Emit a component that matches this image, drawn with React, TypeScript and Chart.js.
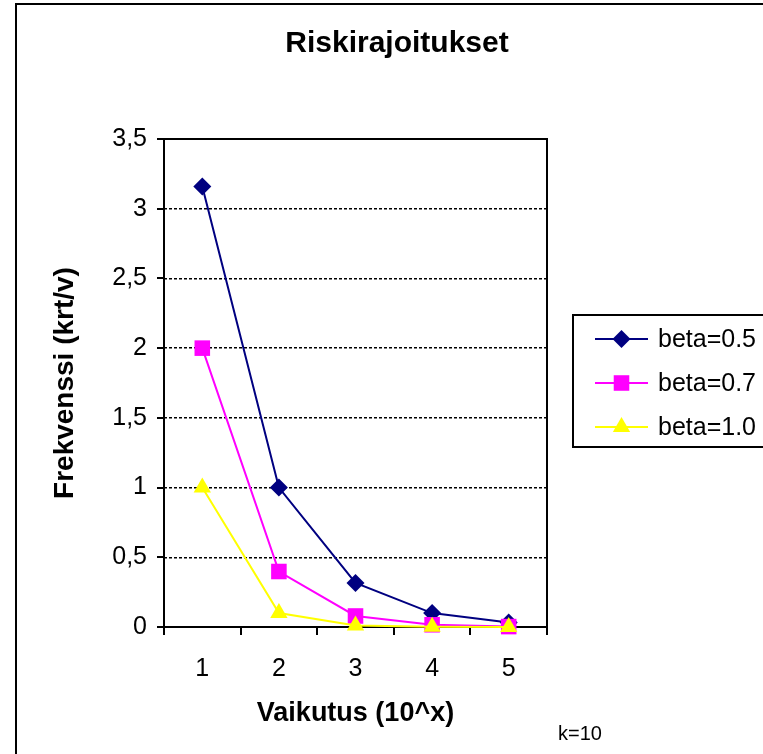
import React, { useEffect, useRef } from 'react';
import { Chart, registerables } from 'chart.js';

Chart.register(...registerables);

const W = 763;
const H = 754;
const FONT = "'Liberation Sans', Arial, sans-serif";

const chartTitle = 'Riskirajoitukset';
const xTitle = 'Vaikutus (10^x)';
const yTitle = 'Frekvenssi (krt/v)';
const footNote = 'k=10';

const categories = ['1', '2', '3', '4', '5'];
const seriesNames = ['beta=0.5', 'beta=0.7', 'beta=1.0'];
const beta05 = [3.16, 1.0, 0.316, 0.1, 0.0316];
const beta07 = [2.0, 0.398, 0.079, 0.016, 0.003];
const beta10 = [1.0, 0.1, 0.01, 0.001, 0.0001];
const seriesColors = ['#000080', '#FF00FF', '#FFFF00'];
const seriesMarkers = ['rectRot', 'rect', 'triangle'];
const markerRadius = [9, 11, 10];

const yMin = 0;
const yMax = 3.5;
const yStep = 0.5;

function drawMarker(ctx: CanvasRenderingContext2D, shape: string, x: number, y: number, r: number, color: string) {
  ctx.save();
  ctx.fillStyle = color;
  ctx.beginPath();
  if (shape === 'rectRot') {
    ctx.moveTo(x, y - r);
    ctx.lineTo(x + r, y);
    ctx.lineTo(x, y + r);
    ctx.lineTo(x - r, y);
  } else if (shape === 'rect') {
    const s = r * Math.SQRT1_2;
    ctx.rect(x - s, y - s, 2 * s, 2 * s);
  } else {
    ctx.moveTo(x, y - r);
    ctx.lineTo(x + r * Math.sin((2 * Math.PI) / 3), y + r * 0.5);
    ctx.lineTo(x - r * Math.sin((2 * Math.PI) / 3), y + r * 0.5);
  }
  ctx.closePath();
  ctx.fill();
  ctx.restore();
}

const decor = {
  id: 'decor',
  beforeDatasetsDraw(chart: any) {
    const { ctx, chartArea } = chart;
    ctx.save();
    ctx.strokeStyle = '#000';
    ctx.lineWidth = 2;
    ctx.beginPath();
    ctx.moveTo(chartArea.left, chartArea.top);
    ctx.lineTo(chartArea.right, chartArea.top);
    ctx.stroke();
    ctx.restore();
  },
  afterDraw(chart: any) {
    const { ctx } = chart;
    ctx.save();
    // outer chart border
    ctx.strokeStyle = '#000';
    ctx.lineWidth = 2;
    ctx.beginPath();
    ctx.moveTo(16, H + 2);
    ctx.lineTo(16, 4);
    ctx.lineTo(W + 2, 4);
    ctx.stroke();

    // title
    ctx.fillStyle = '#000';
    ctx.font = `bold 30px ${FONT}`;
    ctx.textAlign = 'center';
    ctx.textBaseline = 'middle';
    ctx.fillText(chartTitle, 397, 44);

    // footnote
    ctx.font = `20px ${FONT}`;
    ctx.textAlign = 'left';
    ctx.fillText(footNote, 558, 734);

    // legend box
    ctx.lineWidth = 2;
    ctx.strokeRect(573, 315, 200, 132);
    const rows = [339, 383, 427];
    chart.data.datasets.forEach((ds: any, i: number) => {
      const y = rows[i];
      ctx.strokeStyle = ds.borderColor;
      ctx.lineWidth = 2;
      ctx.beginPath();
      ctx.moveTo(595, y);
      ctx.lineTo(648, y);
      ctx.stroke();
      drawMarker(ctx, ds.pointStyle, 621.5, y, ds.pointRadius, ds.pointBackgroundColor);
      ctx.fillStyle = '#000';
      ctx.font = `25px ${FONT}`;
      ctx.textAlign = 'left';
      ctx.textBaseline = 'middle';
      ctx.fillText(ds.label, 658, y + 1);
    });
    ctx.restore();
  },
};

export default function App() {
  const ref = useRef<HTMLCanvasElement | null>(null);

  useEffect(() => {
    if (!ref.current) return;
    const series = [beta05, beta07, beta10];
    const chart = new Chart(ref.current, {
      type: 'line',
      data: {
        labels: categories,
        datasets: series.map((data, i) => ({
          label: seriesNames[i],
          data,
          borderColor: seriesColors[i],
          backgroundColor: seriesColors[i],
          pointBackgroundColor: seriesColors[i],
          pointBorderColor: seriesColors[i],
          pointBorderWidth: 0,
          pointStyle: seriesMarkers[i],
          pointRadius: markerRadius[i],
          borderWidth: 2,
          tension: 0,
          fill: false,
          order: 3 - i,
          clip: false,
        })),
      },
      options: {
        responsive: false,
        animation: false,
        events: [],
        layout: { padding: { top: 139, right: 216, bottom: 0, left: 0 } },
        plugins: {
          legend: { display: false },
          title: { display: false },
          tooltip: { enabled: false },
        },
        scales: {
          x: {
            type: 'category',
            offset: true,
            afterFit: (s: any) => { s.height = 127; },
            grid: {
              offset: true,
              drawOnChartArea: false,
              drawTicks: true,
              tickLength: 8,
              color: '#000',
              lineWidth: 2,
            },
            border: { display: true, color: '#000', width: 2 },
            ticks: {
              color: '#000',
              font: { family: FONT, size: 25 },
              padding: 19,
              maxRotation: 0,
            },
            title: {
              display: true,
              text: xTitle,
              color: '#000',
              font: { family: FONT, size: 27, weight: 'bold' },
              padding: { top: 0, bottom: 24 },
            },
          },
          y: {
            position: 'left',
            min: yMin,
            max: yMax,
            afterFit: (s: any) => { s.width = 164; },
            grid: {
              drawOnChartArea: false,
              drawTicks: true,
              tickLength: 7,
              color: '#000',
              lineWidth: 2,
            },
            border: { display: true, color: '#000', width: 2 },
            ticks: {
              stepSize: yStep,
              color: '#000',
              font: { family: FONT, size: 25 },
              padding: 10,
              callback: (v: any) => String(v).replace('.', ','),
            },
            title: {
              display: true,
              text: yTitle,
              color: '#000',
              font: { family: FONT, size: 28, weight: 'bold' },
              padding: { top: 48, bottom: 0 },
            },
          },
          y2: {
            position: 'right',
            min: yMin,
            max: yMax,
            afterFit: (s: any) => { s.width = 0; },
            grid: {
              drawOnChartArea: true,
              drawTicks: false,
              color: '#000',
              lineWidth: 1.5,
            },
            border: { display: true, color: '#000', width: 2, dash: [3, 2] },
            ticks: { display: false, stepSize: yStep },
          },
        },
      },
      plugins: [decor],
    } as any);
    return () => chart.destroy();
  }, []);

  return (
    <div style={{ position: 'fixed', left: 0, top: 0, width: W, height: H, background: '#fff', overflow: 'hidden' }}>
      <canvas ref={ref} width={W} height={H} style={{ width: W, height: H, display: 'block' }} />
    </div>
  );
}
